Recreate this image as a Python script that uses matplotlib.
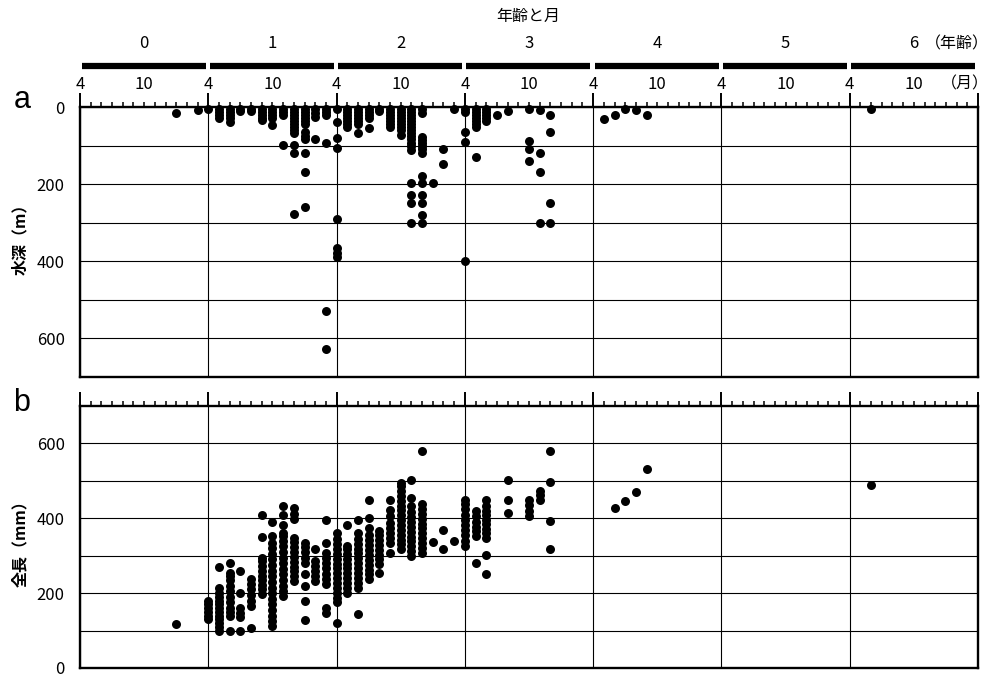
import matplotlib
matplotlib.use("Agg")
import matplotlib.pyplot as plt
import matplotlib.transforms as mtransforms

plt.rcParams['font.family'] = ['Noto Sans CJK JP', 'DejaVu Sans']

# -----------------------------------------------------------
# data: months counted from April of age 0
# -----------------------------------------------------------
ages = ["0", "1", "2", "3", "4", "5", "6"]
month_labels = ["4", "10"]

# a: depth (m), one list per month column
depth_months = [9, 11, 12, 13, 14, 15, 16, 17, 18, 19, 20, 21, 22, 23, 24,
                25, 26, 27, 28, 29, 30, 31, 32, 33, 34, 35, 36, 37, 38, 39,
                40, 42, 43, 44, 49, 50, 51, 52, 53, 74]
depth_values = [
    [15], [8], [6],
    [5, 12, 20, 28],
    [5, 12, 20, 28, 38],
    [5, 10],
    [5, 10],
    [5, 12, 20, 28, 33],
    [5, 12, 20, 28, 47],
    [5, 12, 20, 98],
    [5, 12, 20, 28, 36, 44, 52, 60, 68, 98, 118, 278],
    [5, 12, 20, 28, 36, 44, 66, 74, 84, 118, 168, 258],
    [5, 15, 25, 84],
    [5, 12, 20, 94, 530, 628],
    [5, 38, 81, 107, 289, 365, 378, 390],
    [5, 12, 20, 28, 36, 44, 51],
    [5, 12, 20, 28, 36, 44, 68],
    [5, 12, 20, 28, 55],
    [5, 10],
    [5, 12, 20, 28, 36, 44, 53],
    [5, 12, 20, 28, 36, 44, 52, 60, 72],
    [5, 12, 20, 28, 36, 44, 52, 60, 68, 76, 84, 92, 100, 111, 198, 228, 250, 300],
    [5, 15, 77, 85, 93, 101, 110, 120, 179, 198, 228, 250, 280, 300],
    [198],
    [109, 148],
    [5],
    [5, 13, 66, 90, 400],
    [5, 12, 20, 28, 36, 44, 51, 129],
    [5, 12, 20, 28, 35],
    [20], [10],
    [5, 88, 109, 139],
    [8, 118, 168, 300],
    [20, 64, 250, 300],
    [31], [20], [5], [8], [20], [5],
]

# b: total length (mm)
length_months = [9, 12, 13, 14, 15, 16, 17, 18, 19, 20, 21, 22, 23, 24, 25,
                 26, 27, 28, 29, 30, 31, 32, 33, 34, 35, 36, 37, 38, 40, 42,
                 43, 44, 50, 51, 52, 53, 74]
length_values = [
    [117],
    [130, 140, 150, 160, 170, 180],
    [100, 110, 120, 130, 140, 150, 160, 170, 180, 190, 200, 215, 270],
    [100, 140, 150, 160, 175, 190, 205, 220, 235, 245, 255, 281],
    [100, 135, 148, 161, 200, 259],
    [106, 166, 180, 195, 210, 225, 237],
    [197, 210, 222, 235, 247, 260, 272, 285, 295, 351, 410],
    [113, 125, 140, 155, 170, 185, 200, 215, 230, 245, 260, 275, 290, 305,
     320, 335, 352, 390],
    [193, 205, 220, 235, 250, 265, 280, 295, 310, 325, 340, 352, 361, 381,
     410, 432],
    [232, 245, 258, 271, 284, 297, 310, 323, 336, 348, 397, 412, 428],
    [129, 179, 219, 250, 281, 295, 310, 322, 335],
    [232, 245, 258, 272, 286, 319],
    [148, 161, 224, 238, 252, 266, 280, 294, 306, 333, 395],
    [119, 175, 188, 201, 214, 227, 240, 253, 266, 279, 292, 305, 318, 331,
     344, 361],
    [201, 214, 227, 240, 253, 266, 279, 292, 305, 318, 326, 381],
    [144, 215, 228, 241, 254, 267, 280, 293, 306, 319, 332, 345, 361, 395],
    [237, 250, 263, 276, 289, 302, 315, 328, 341, 354, 374, 401, 450],
    [255, 277, 290, 303, 316, 329, 342, 355, 365],
    [306, 335, 348, 361, 374, 387, 405, 421, 450],
    [317, 330, 343, 356, 369, 382, 395, 408, 421, 434, 447, 460, 473, 486, 494],
    [299, 312, 325, 338, 351, 364, 377, 390, 403, 416, 432, 454, 501],
    [308, 321, 334, 347, 360, 373, 386, 399, 412, 425, 437, 581],
    [336],
    [319, 370],
    [339],
    [326, 340, 354, 368, 382, 396, 410, 424, 438, 450],
    [280, 352, 365, 378, 391, 405, 419],
    [250, 303, 348, 360, 372, 384, 396, 408, 420, 432, 450],
    [414, 448, 501],
    [405, 420, 435, 450],
    [450, 461, 472],
    [319, 394, 496, 581],
    [427], [445], [470], [531], [490],
]


def flatten(months, values):
    xs, ys = [], []
    for m, vals in zip(months, values):
        for v in vals:
            xs.append(m)
            ys.append(v)
    return xs, ys


def style_axes(ax):
    ax.set_xlim(0, 84)
    ax.set_ylim(0, 700)
    ax.set_xticks(range(0, 85, 12))
    ax.set_xticks(range(0, 85), minor=True)
    ax.set_yticks([0, 200, 400, 600])
    ax.set_yticks([100, 300, 500], minor=True)
    ax.xaxis.set_ticks_position('top')
    ax.tick_params(axis='x', which='major', length=10, width=1.4,
                   direction='out', labeltop=False, labelbottom=False)
    ax.tick_params(axis='x', which='minor', length=3.5, width=1.1,
                   direction='out')
    ax.tick_params(axis='y', which='both', length=0, pad=11, labelsize=12)
    ax.grid(axis='x', which='major', color='black', linewidth=0.8)
    ax.grid(axis='y', which='both', color='black', linewidth=0.8)
    ax.set_axisbelow(True)
    for s in ax.spines.values():
        s.set_linewidth(1.7)


fig = plt.figure(figsize=(9.93, 6.77), dpi=100)
ax_a = fig.add_axes([0.0806, 0.4431, 0.9043, 0.3988])
ax_b = fig.add_axes([0.0806, 0.0133, 0.9043, 0.3870])

# -----------------------------------------------------------
# a: depth
# -----------------------------------------------------------
style_axes(ax_a)
ax_a.invert_yaxis()
xa, ya = flatten(depth_months, depth_values)
ax_a.scatter(xa, ya, s=42, color='black', zorder=3, clip_on=False,
             linewidths=0)

trans = mtransforms.blended_transform_factory(ax_a.transData, ax_a.transAxes)
for k, age in enumerate(ages):
    ax_a.plot([12 * k + 0.15, 12 * k + 11.75], [1.152, 1.152], color='black',
              linewidth=4.5, solid_capstyle='butt', transform=trans,
              clip_on=False)
    ax_a.text(12 * k + 6, 1.235, age, transform=trans, ha='center',
              va='center', fontsize=12)
    ax_a.text(12 * k, 1.083, month_labels[0], transform=trans, ha='center',
              va='center', fontsize=12)
    ax_a.text(12 * k + 6, 1.083, month_labels[1], transform=trans,
              ha='center', va='center', fontsize=12)

fig.text(989 / 993, 1 - 44 / 677, "（年齢）", ha='right', va='center',
         fontsize=11.5)
fig.text(989 / 993, 1 - 84 / 677, "（月）", ha='right', va='center',
         fontsize=11.5)

# -----------------------------------------------------------
# b: total length
# -----------------------------------------------------------
style_axes(ax_b)
xb, yb = flatten(length_months, length_values)
ax_b.scatter(xb, yb, s=42, color='black', zorder=3, clip_on=False,
             linewidths=0)

fig.text(528 / 993, 1 - 16 / 677, "年齢と月", ha='center', va='center',
         fontsize=11.5)
fig.text(22 / 993, 1 - 100 / 677, "a", ha='center', va='center',
         fontsize=22, family=['Liberation Sans', 'DejaVu Sans'])
fig.text(22 / 993, 1 - 403 / 677, "b", ha='center', va='center',
         fontsize=22, family=['Liberation Sans', 'DejaVu Sans'])
fig.text(20 / 993, 1 - 235 / 677, "水深（m）", ha='center', va='center',
         rotation=90, fontsize=11.5, fontweight='bold')
fig.text(20 / 993, 1 - 540 / 677, "全長（mm）", ha='center', va='center',
         rotation=90, fontsize=11.5, fontweight='bold')

fig.savefig("out.png", dpi=100)
